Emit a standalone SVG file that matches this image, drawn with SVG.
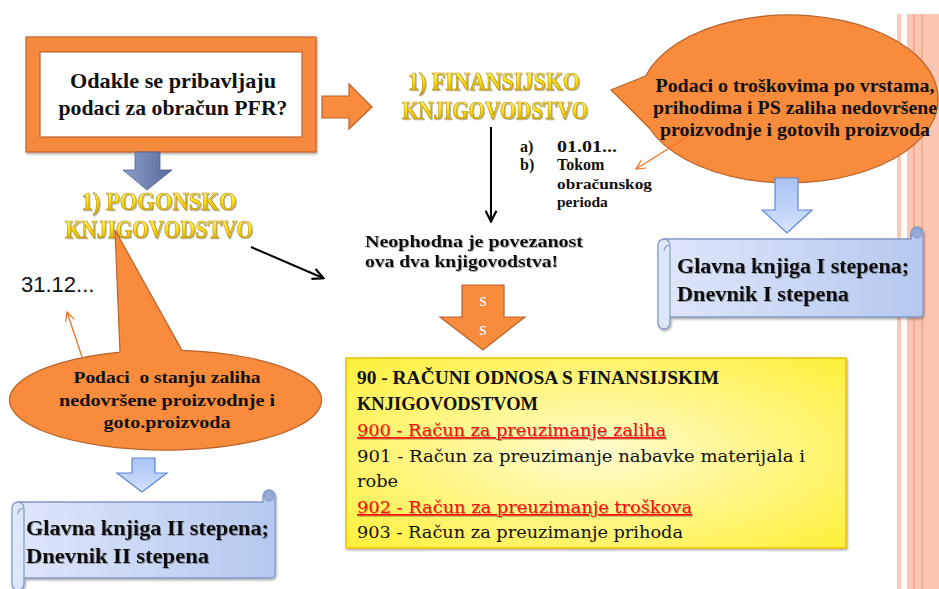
<svg xmlns="http://www.w3.org/2000/svg" width="939" height="589" viewBox="0 0 939 589">
<style>
.sb{font-family:"Liberation Serif","Times New Roman",serif;font-weight:bold;fill:#111;}
.gold{font-family:"Liberation Serif","Times New Roman",serif;font-weight:bold;fill:url(#gold);stroke:#B58A00;stroke-width:0.6;}
.orng{fill:#F88B3C;stroke:#B9622A;stroke-width:1.2;}
.yb{font-family:"Liberation Serif","Times New Roman",serif;font-size:19.5px;font-weight:bold;fill:#111;}
.yr{font-family:"DejaVu Serif","Liberation Serif",serif;font-size:17px;fill:#111;}
.red{fill:#FF1010;text-decoration:underline;}
.scroll{fill:url(#scrollg);stroke:#8598C8;stroke-width:1.3;}
.lblue{fill:url(#lblue);stroke:#5F86D6;stroke-width:1.2;}
</style>
<defs>
<linearGradient id="gold" x1="0" y1="0" x2="0" y2="1">
<stop offset="0" stop-color="#FFF9B0"/>
<stop offset="0.45" stop-color="#FFE21A"/>
<stop offset="1" stop-color="#C99A00"/>
</linearGradient>
<linearGradient id="scrollg" x1="0" y1="0" x2="1" y2="0">
<stop offset="0" stop-color="#DFE7FA"/>
<stop offset="1" stop-color="#B6C8F0"/>
</linearGradient>
<linearGradient id="lblue" x1="0" y1="0" x2="0" y2="1">
<stop offset="0" stop-color="#A8C2F5"/>
<stop offset="1" stop-color="#D4E2FC"/>
</linearGradient>
<linearGradient id="slate" x1="0" y1="0" x2="1" y2="0">
<stop offset="0" stop-color="#8E9FC8"/>
<stop offset="1" stop-color="#56699A"/>
</linearGradient>
<radialGradient id="yel" cx="0.5" cy="0.5" r="0.7">
<stop offset="0" stop-color="#FFFCD0"/>
<stop offset="1" stop-color="#FFF03A"/>
</radialGradient>
<filter id="sh" x="-10%" y="-10%" width="130%" height="140%">
<feDropShadow dx="1" dy="1.5" stdDeviation="1.2" flood-color="#000" flood-opacity="0.35"/>
</filter>
<filter id="tsh" x="-5%" y="-20%" width="110%" height="150%">
<feDropShadow dx="1" dy="1" stdDeviation="0.7" flood-color="#000" flood-opacity="0.3"/>
</filter>
<marker id="blk" viewBox="0 0 12 12" refX="10.5" refY="6" markerWidth="13" markerHeight="13" orient="auto" markerUnits="userSpaceOnUse">
<path d="M1,1 L11,6 L1,11" fill="none" stroke="#000" stroke-width="2"/>
</marker>
<marker id="oar" viewBox="0 0 12 12" refX="11" refY="6" markerWidth="11" markerHeight="11" orient="auto" markerUnits="userSpaceOnUse">
<path d="M1,1 L11,6 L1,11" fill="none" stroke="#F07020" stroke-width="1.3"/>
</marker>
</defs>

<rect width="939" height="589" fill="#FFFFFF"/>

<g id="stripes">
<rect x="897" y="14" width="4" height="575" fill="#FCC7B2"/>
<rect x="907" y="14" width="32" height="575" fill="#FCC7B2"/>
<line x1="914" y1="14" x2="914" y2="589" stroke="#F7A37F" stroke-width="1.5"/>
<line x1="922" y1="14" x2="922" y2="589" stroke="#F7A37F" stroke-width="1.5"/>
</g>

<g id="question">
<rect x="26" y="37" width="290" height="115" fill="#F5893C" stroke="#BF642C" stroke-width="1.2" filter="url(#sh)"/>
<rect x="40" y="52" width="262" height="85" fill="#FFFFFF" stroke="#BF642C" stroke-width="1.2"/>
<text class="sb" x="173" y="88" font-size="21.5" text-anchor="middle" textLength="206" lengthAdjust="spacingAndGlyphs">Odakle se pribavljaju</text>
<text class="sb" x="173" y="115" font-size="21.5" text-anchor="middle" textLength="229" lengthAdjust="spacingAndGlyphs">podaci za obračun PFR?</text>
</g>

<g id="fin-title" filter="url(#tsh)">
<text class="gold" x="494" y="90" font-size="25" text-anchor="middle" textLength="172" lengthAdjust="spacingAndGlyphs">1) FINANSIJSKO</text>
<text class="gold" x="495" y="119" font-size="25" text-anchor="middle" textLength="186" lengthAdjust="spacingAndGlyphs">KNJIGOVODSTVO</text>
</g>

<g id="pog-title" filter="url(#tsh)">
<text class="gold" x="159" y="210" font-size="25" text-anchor="middle" textLength="155" lengthAdjust="spacingAndGlyphs">1) POGONSKO</text>
<text class="gold" x="159" y="238" font-size="25" text-anchor="middle" textLength="188" lengthAdjust="spacingAndGlyphs">KNJIGOVODSTVO</text>
</g>

<g id="callout-fin">
<path class="orng" d="M645.7,76 L611,90 L649.2,128 A149 84 0 1 0 645.7,76 Z"/>
<text class="sb" x="795" y="92" font-size="18" text-anchor="middle" textLength="279" lengthAdjust="spacingAndGlyphs">Podaci o troškovima po vrstama,</text>
<text class="sb" x="795" y="114" font-size="18" text-anchor="middle" textLength="284" lengthAdjust="spacingAndGlyphs">prihodima i PS zaliha nedovršene</text>
<text class="sb" x="795" y="136" font-size="18" text-anchor="middle" textLength="270" lengthAdjust="spacingAndGlyphs">proizvodnje i gotovih proizvoda</text>
</g>

<g id="callout-pog">
<path class="orng" d="M120,352.2 L115,230 L182,350.3 A156 50 0 1 1 120,352.2 Z"/>
<text class="sb" x="167" y="383" font-size="17" text-anchor="middle" textLength="187" lengthAdjust="spacingAndGlyphs" xml:space="preserve">Podaci  o stanju zaliha</text>
<text class="sb" x="167" y="406" font-size="17" text-anchor="middle" textLength="216" lengthAdjust="spacingAndGlyphs">nedovršene proizvodnje i</text>
<text class="sb" x="167" y="428" font-size="17" text-anchor="middle" textLength="127" lengthAdjust="spacingAndGlyphs">goto.proizvoda</text>
</g>

<g id="dates-fin">
<text class="sb" x="520" y="152" font-size="16">a)</text>
<text class="sb" x="557" y="152" font-size="16" textLength="60" lengthAdjust="spacingAndGlyphs">01.01...</text>
<text class="sb" x="520" y="170" font-size="16">b)</text>
<text class="sb" x="557" y="170" font-size="16">Tokom</text>
<text class="sb" x="557" y="189" font-size="15.5" textLength="95" lengthAdjust="spacingAndGlyphs">obračunskog</text>
<text class="sb" x="557" y="207" font-size="15.5">perioda</text>
</g>

<g id="date-pog">
<text x="21" y="292" font-family="'Liberation Sans',Arial,sans-serif" font-size="22" fill="#111">31.12...</text>
</g>

<g id="link-note" filter="url(#tsh)">
<text class="sb" x="365" y="247" font-size="17" textLength="218" lengthAdjust="spacingAndGlyphs">Neophodna je povezanost</text>
<text class="sb" x="365" y="267" font-size="17" textLength="193" lengthAdjust="spacingAndGlyphs">ova dva knjigovodstva!</text>
</g>

<g id="book-1">
<path class="scroll" filter="url(#sh)" d="M664,239 L911,239 L911,233 A6 6 0 0 1 923,233 L923,313 Q923,317 919,317 L670,317 L670,323 A6 6 0 0 1 658,323 L658,245 A6 6 0 0 1 664,239 Z"/>
<circle cx="917" cy="233" r="5" fill="#95A8D6" stroke="#8598C8" stroke-width="1"/>
<path d="M911,233 L911,239" stroke="#8598C8" stroke-width="1.2"/>
<path d="M670,245 A6 6 0 0 0 664,239 M664,251 A6 6 0 0 1 670,245 M670,245 L670,317" fill="none" stroke="#8598C8" stroke-width="1.2"/>
<text class="sb" x="677" y="273" font-size="20.5" filter="url(#tsh)" textLength="232" lengthAdjust="spacingAndGlyphs">Glavna knjiga I stepena;</text>
<text class="sb" x="677" y="301" font-size="20.5" filter="url(#tsh)" textLength="172" lengthAdjust="spacingAndGlyphs">Dnevnik I stepena</text>
</g>

<g id="book-2">
<path class="scroll" filter="url(#sh)" d="M18,502 L263,502 L263,496 A6 6 0 0 1 275,496 L275,574 Q275,578 271,578 L24,578 L24,584 A6 6 0 0 1 12,584 L12,508 A6 6 0 0 1 18,502 Z"/>
<circle cx="269" cy="496" r="5" fill="#95A8D6" stroke="#8598C8" stroke-width="1"/>
<path d="M24,508 A6 6 0 0 0 18,502 M18,514 A6 6 0 0 1 24,508 M24,508 L24,578" fill="none" stroke="#8598C8" stroke-width="1.2"/>
<text class="sb" x="26" y="535" font-size="20.5" filter="url(#tsh)" textLength="243" lengthAdjust="spacingAndGlyphs">Glavna knjiga II stepena;</text>
<text class="sb" x="26" y="563" font-size="20.5" filter="url(#tsh)" textLength="183" lengthAdjust="spacingAndGlyphs">Dnevnik II stepena</text>
</g>

<g id="accounts">
<rect x="346" y="358" width="500" height="190" fill="url(#yel)" stroke="#F0C000" stroke-width="1.5" filter="url(#sh)"/>
<text class="yb" x="357" y="384" textLength="362" lengthAdjust="spacingAndGlyphs">90 - RAČUNI ODNOSA S FINANSIJSKIM</text>
<text class="yb" x="357" y="410" textLength="181" lengthAdjust="spacingAndGlyphs">KNJIGOVODSTVOM</text>
<text class="yr red" x="357" y="436" filter="url(#tsh)" textLength="309" lengthAdjust="spacingAndGlyphs">900 - Račun za preuzimanje zaliha</text>
<text class="yr" x="357" y="462" textLength="448" lengthAdjust="spacingAndGlyphs">901 - Račun za preuzimanje nabavke materijala i</text>
<text class="yr" x="357" y="487" textLength="41" lengthAdjust="spacingAndGlyphs">robe</text>
<text class="yr red" x="357" y="513" filter="url(#tsh)" textLength="335" lengthAdjust="spacingAndGlyphs">902 - Račun za preuzimanje troškova</text>
<text class="yr" x="357" y="538" textLength="326" lengthAdjust="spacingAndGlyphs">903 - Račun za preuzimanje prihoda</text>
</g>

<g id="connectors">
<polygon points="322,96 349,96 349,84 372,107 349,129 349,118 322,118" class="orng"/>
<polygon points="135,152 160,152 160,170 172,170 147,190 123,170 135,170" fill="url(#slate)" stroke="#4E6090" stroke-width="0.8"/>
<polygon points="775,178 798,178 798,210 812,210 787,233 762,210 775,210" class="lblue"/>
<polygon points="132,458 155,458 155,473 167,473 142,492 117,473 132,473" class="lblue"/>
<polygon points="462,285 504,285 504,317 525,317 483,350 440,317 462,317" class="orng"/>
<text x="483" y="306" font-family="'Liberation Serif',serif" font-size="19" fill="#FFFFFF" text-anchor="middle">s</text>
<text x="483" y="335" font-family="'Liberation Serif',serif" font-size="19" fill="#FFFFFF" text-anchor="middle">s</text>
<line x1="491" y1="127" x2="491" y2="221" stroke="#000" stroke-width="2" marker-end="url(#blk)"/>
<line x1="251" y1="247" x2="323" y2="278" stroke="#000" stroke-width="2" marker-end="url(#blk)"/>
<line x1="690" y1="135" x2="636" y2="169" stroke="#F07020" stroke-width="1.3" marker-end="url(#oar)"/>
<line x1="82" y1="357" x2="67" y2="312" stroke="#F07020" stroke-width="1.3" marker-end="url(#oar)"/>
</g>
</svg>
